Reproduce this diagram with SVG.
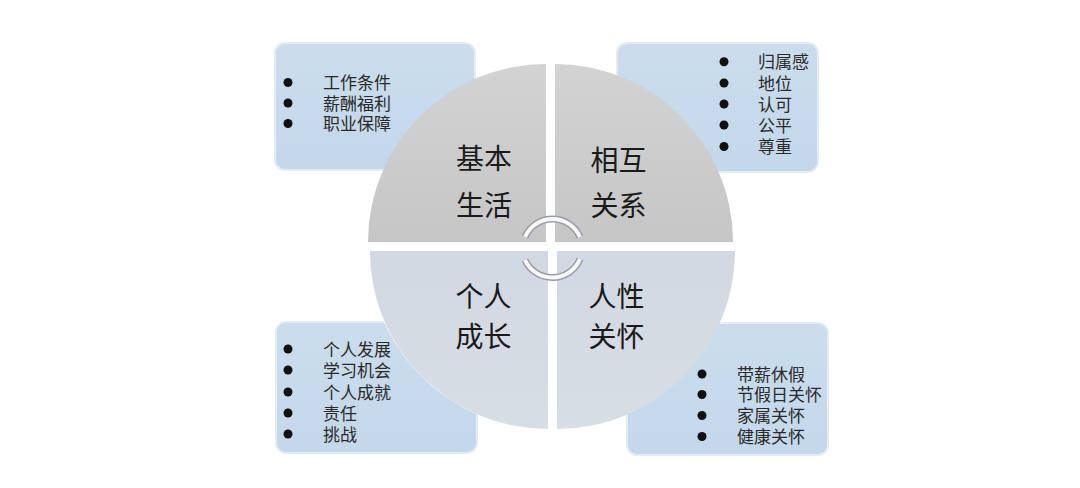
<svg xmlns="http://www.w3.org/2000/svg" width="1080" height="488" viewBox="0 0 1080 488">
<defs>
<linearGradient id="gTop" x1="0" y1="0" x2="0" y2="1">
<stop offset="0" stop-color="#d3d3d3"/>
<stop offset="1" stop-color="#c6c6c6"/>
</linearGradient>
<linearGradient id="gBot" x1="0" y1="0" x2="0" y2="1">
<stop offset="0" stop-color="#d2d8e1"/>
<stop offset="1" stop-color="#d8dee6"/>
</linearGradient>
<linearGradient id="gBox" x1="0" y1="0" x2="0" y2="1">
<stop offset="0" stop-color="#cbdded"/>
<stop offset="1" stop-color="#c3d8ea"/>
</linearGradient>
</defs>
<style>
.box{fill:url(#gBox);stroke:#e3ecf5;stroke-width:2}
.item{font-family:"Noto Sans CJK SC","Noto Sans",sans-serif;font-size:17px;fill:#2a2a2a}
.dot{fill:#111}
.lab{font-family:"Noto Sans CJK SC","Noto Sans",sans-serif;font-size:28px;fill:#1a1a1a;text-anchor:middle}
.qt{fill:url(#gTop)}
.qb{fill:url(#gBot)}
.arcO{fill:none;stroke:#9a9ea4;stroke-width:7}
.arcI{fill:none;stroke:#f7f8fa;stroke-width:4}
</style>
<rect width="1080" height="488" fill="#ffffff"/>

<g id="box-basic">
<rect class="box" x="275" y="43" width="200" height="127" rx="10"/>
<circle class="dot" cx="288" cy="82.5" r="4.5"/>
<circle class="dot" cx="288" cy="103" r="4.5"/>
<circle class="dot" cx="288" cy="123.5" r="4.5"/>
<text class="item" x="323" y="89">工作条件</text>
<text class="item" x="323" y="109.5">薪酬福利</text>
<text class="item" x="323" y="130">职业保障</text>
</g>

<g id="box-relation">
<rect class="box" x="617" y="43" width="201" height="129" rx="10"/>
<circle class="dot" cx="724" cy="61.7" r="4.5"/>
<circle class="dot" cx="724" cy="83" r="4.5"/>
<circle class="dot" cx="724" cy="104" r="4.5"/>
<circle class="dot" cx="724" cy="125" r="4.5"/>
<circle class="dot" cx="724" cy="146.5" r="4.5"/>
<text class="item" x="758" y="68">归属感</text>
<text class="item" x="758" y="89.5">地位</text>
<text class="item" x="758" y="110.5">认可</text>
<text class="item" x="758" y="131.5">公平</text>
<text class="item" x="758" y="153">尊重</text>
</g>

<g id="box-growth">
<rect class="box" x="276" y="322" width="201" height="131" rx="10"/>
<circle class="dot" cx="288" cy="349" r="4.5"/>
<circle class="dot" cx="288" cy="370" r="4.5"/>
<circle class="dot" cx="288" cy="392" r="4.5"/>
<circle class="dot" cx="288" cy="413" r="4.5"/>
<circle class="dot" cx="288" cy="434" r="4.5"/>
<text class="item" x="323" y="355.5">个人发展</text>
<text class="item" x="323" y="376.5">学习机会</text>
<text class="item" x="323" y="398.5">个人成就</text>
<text class="item" x="323" y="419.5">责任</text>
<text class="item" x="323" y="440.5">挑战</text>
</g>

<g id="box-care">
<rect class="box" x="627" y="323" width="201" height="132" rx="10"/>
<circle class="dot" cx="702" cy="374" r="4.5"/>
<circle class="dot" cx="702" cy="394.5" r="4.5"/>
<circle class="dot" cx="702" cy="415.5" r="4.5"/>
<circle class="dot" cx="702" cy="436.5" r="4.5"/>
<text class="item" x="737" y="380.5">带薪休假</text>
<text class="item" x="737" y="401">节假日关怀</text>
<text class="item" x="737" y="422">家属关怀</text>
<text class="item" x="737" y="443">健康关怀</text>
</g>

<g id="wheel">
<circle cx="551" cy="247" r="183" fill="#ffffff"/>
<g id="q-basic">
<path class="qt" d="M546 242 L368 242 A178 178 0 0 1 546 64 Z"/>
<text class="lab" x="484" y="168.5">基本</text>
<text class="lab" x="484" y="215.5">生活</text>
</g>
<g id="q-relation">
<path class="qt" d="M555 242 L555 64 A178 178 0 0 1 733 242 Z"/>
<text class="lab" x="618.5" y="171">相互</text>
<text class="lab" x="618.5" y="215.5">关系</text>
</g>
<g id="q-growth">
<path class="qb" d="M548 251 L548 429 A178 178 0 0 1 370 251 Z"/>
<text class="lab" x="483.5" y="306.5">个人</text>
<text class="lab" x="483.5" y="346.5">成长</text>
</g>
<g id="q-care">
<path class="qb" d="M557 251 L735 251 A178 178 0 0 1 557 429 Z"/>
<text class="lab" x="616.5" y="306.5">人性</text>
<text class="lab" x="616.5" y="346.5">关怀</text>
</g>
</g>

<g id="connectors">
<path class="arcO" d="M525 237 A30 30 0 0 1 580 237"/>
<path class="arcI" d="M525 237 A30 30 0 0 1 580 237"/>
<path class="arcO" d="M580 259 A30 30 0 0 1 525 260"/>
<path class="arcI" d="M580 259 A30 30 0 0 1 525 260"/>
</g>
</svg>
